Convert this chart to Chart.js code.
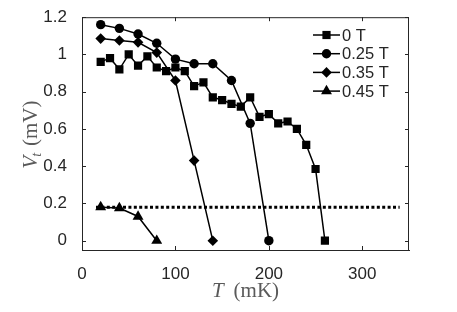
<!DOCTYPE html>
<html>
<head>
<meta charset="utf-8">
<script src="https://cdn.jsdelivr.net/npm/chart.js@4/dist/chart.umd.min.js"></script>
<style>
  html, body { margin: 0; padding: 0; background: #fff; }
  #wrap { width: 457px; height: 312px; }
</style>
</head>
<body>
<div id="wrap"><canvas id="chart" width="457" height="312"></canvas></div>
<script>
// Data (T in mK, V_t in mV)
const tempB0 = [20, 30, 40, 50, 60, 70, 80, 90, 100, 110, 120, 130, 140, 150, 160, 170, 180, 190, 200, 210, 220, 230, 240, 250, 260];
const voltB0 = [0.96, 0.98, 0.92, 1.0, 0.94, 0.99, 0.93, 0.91, 0.93, 0.91, 0.83, 0.85, 0.77, 0.755, 0.735, 0.72, 0.77, 0.665, 0.68, 0.63, 0.64, 0.60, 0.515, 0.385, 0];

const tempB025 = [20, 40, 60, 80, 100, 120, 140, 160, 180, 200];
const voltB025 = [1.16, 1.14, 1.11, 1.06, 0.975, 0.95, 0.95, 0.86, 0.63, 0];

const tempB035 = [20, 40, 60, 80, 100, 120, 140];
const voltB035 = [1.085, 1.075, 1.065, 1.01, 0.86, 0.43, 0];

const tempB045 = [20, 40, 60, 80];
const voltB045 = [0.18, 0.175, 0.13, 0];

const thresholdT = [15, 340];
const thresholdV = [0.18, 0.18];

const fieldLabels = ['0 T', '0.25 T', '0.35 T', '0.45 T'];
const xTicks = [0, 100, 200, 300];
const yTicks = [0, 0.2, 0.4, 0.6, 0.8, 1, 1.2];

const axisColor = '#262626';
const labelColor = '#5a5a5a';
const serif = '"Liberation Serif"';

function pts(xs, ys) {
    return xs.map((x, i) => ({ x: x, y: ys[i] }));
}

function series(label, xs, ys, style, radius) {
    return {
        label: label,
        data: pts(xs, ys),
        borderColor: '#000',
        backgroundColor: '#000',
        borderWidth: 1.5,
        pointStyle: style,
        pointRadius: radius,
        pointBorderWidth: 0,
        pointHoverRadius: radius,
        tension: 0
    };
}

const datasets = [
    series(fieldLabels[0], tempB0, voltB0, 'rect', 5.8),
    series(fieldLabels[1], tempB025, voltB025, 'circle', 4.7),
    series(fieldLabels[2], tempB035, voltB035, 'rectRot', 5.3),
    series(fieldLabels[3], tempB045, voltB045, 'triangle', 6.3),
    {
        label: 'threshold',
        data: pts(thresholdT, thresholdV),
        borderColor: '#000',
        borderWidth: 3,
        borderDash: [3, 2.4],
        pointRadius: 0,
        tension: 0
    }
];

// box, inward ticks, axis titles and legend in MATLAB style
const matlabStyle = {
    id: 'matlabStyle',
    afterDraw(chart) {
        const ctx = chart.ctx;
        const a = chart.chartArea;
        const xs = chart.scales.x, ys = chart.scales.y;
        ctx.save();
        ctx.strokeStyle = axisColor;
        ctx.lineWidth = 1;
        ctx.beginPath();
        ctx.moveTo(a.left, a.top + 0.5);
        ctx.lineTo(a.right - 0.5, a.top + 0.5);
        ctx.lineTo(a.right - 0.5, a.bottom);
        ctx.stroke();
        const tl = 4;
        ctx.beginPath();
        xTicks.forEach(v => {
            const px = Math.round(xs.getPixelForValue(v)) + 0.5;
            ctx.moveTo(px, a.bottom); ctx.lineTo(px, a.bottom - tl);
            ctx.moveTo(px, a.top); ctx.lineTo(px, a.top + tl);
        });
        yTicks.forEach(v => {
            const py = Math.round(ys.getPixelForValue(v)) + 0.5;
            ctx.moveTo(a.left, py); ctx.lineTo(a.left + tl, py);
            ctx.moveTo(a.right, py); ctx.lineTo(a.right - tl, py);
        });
        ctx.stroke();

        // axis titles
        ctx.fillStyle = labelColor;
        ctx.textBaseline = 'alphabetic';
        // x title: T (mK)
        const gap = 10;
        ctx.font = 'italic 21px ' + serif;
        const w1 = ctx.measureText('T').width;
        ctx.font = '21px ' + serif;
        const w2 = ctx.measureText('(mK)').width;
        const sx = (a.left + a.right) / 2 - (w1 + gap + w2) / 2;
        const by = 297;
        ctx.font = 'italic 21px ' + serif;
        ctx.fillText('T', sx, by);
        ctx.font = '21px ' + serif;
        ctx.fillText('(mK)', sx + w1 + gap, by);

        // y title: V_t (mV)
        ctx.save();
        ctx.translate(37, (a.top + a.bottom) / 2 + 1);
        ctx.rotate(-Math.PI / 2);
        ctx.font = 'italic 21px ' + serif;
        const v1 = ctx.measureText('V').width;
        ctx.font = 'italic 14px ' + serif;
        const v2 = ctx.measureText('t').width;
        ctx.font = '21px ' + serif;
        const v3 = ctx.measureText('(mV)').width;
        const ygap = 6;
        const yx = -(v1 + v2 + ygap + v3) / 2;
        ctx.font = 'italic 21px ' + serif;
        ctx.fillText('V', yx, 0);
        ctx.font = 'italic 14px ' + serif;
        ctx.fillText('t', yx + v1 - 1, 4);
        ctx.font = '21px ' + serif;
        ctx.fillText('(mV)', yx + v1 + v2 + ygap, 0);
        ctx.restore();

        // legend
        const lx0 = 313, lx1 = 340, ly0 = 35, step = 18.7;
        ctx.font = '16.5px "Liberation Sans"';
        ctx.textBaseline = 'middle';
        for (let i = 0; i < 4; i++) {
            const d = chart.data.datasets[i];
            const y = ly0 + i * step;
            ctx.strokeStyle = '#000';
            ctx.lineWidth = 1.5;
            ctx.beginPath();
            ctx.moveTo(lx0, y); ctx.lineTo(lx1, y);
            ctx.stroke();
            ctx.fillStyle = '#000';
            Chart.helpers.drawPoint(ctx, { pointStyle: d.pointStyle, radius: d.pointRadius, rotation: 0, borderWidth: 0 }, (lx0 + lx1) / 2, y);
            ctx.fillStyle = axisColor;
            ctx.fillText(d.label, lx1 + 2, y + 1);
        }
        ctx.restore();
    }
};

new Chart(document.getElementById('chart'), {
    type: 'line',
    data: { datasets: datasets },
    options: {
        responsive: false,
        animation: false,
        layout: { padding: { top: 15, right: 48, left: 0, bottom: 0 } },
        plugins: {
            legend: { display: false },
            tooltip: { enabled: false }
        },
        scales: {
            x: {
                type: 'linear',
                min: 0,
                max: 350,
                afterBuildTicks: s => { s.ticks = xTicks.map(v => ({ value: v })); },
                afterFit: s => { s.height = 62; },
                grid: { display: false },
                border: { display: true, color: axisColor, width: 1 },
                ticks: {
                    color: axisColor,
                    font: { family: 'Liberation Sans', size: 17 },
                    padding: 6,
                    maxRotation: 0,
                    callback: v => String(v)
                }
            },
            y: {
                min: -0.05,
                max: 1.2,
                afterBuildTicks: s => { s.ticks = yTicks.map(v => ({ value: v })); },
                afterFit: s => { s.width = 82; },
                grid: { display: false },
                border: { display: true, color: axisColor, width: 1 },
                ticks: {
                    color: axisColor,
                    font: { family: 'Liberation Sans', size: 17 },
                    padding: 7,
                    callback: v => String(Math.round(v * 10) / 10)
                }
            }
        }
    },
    plugins: [matlabStyle]
});
</script>
</body>
</html>
